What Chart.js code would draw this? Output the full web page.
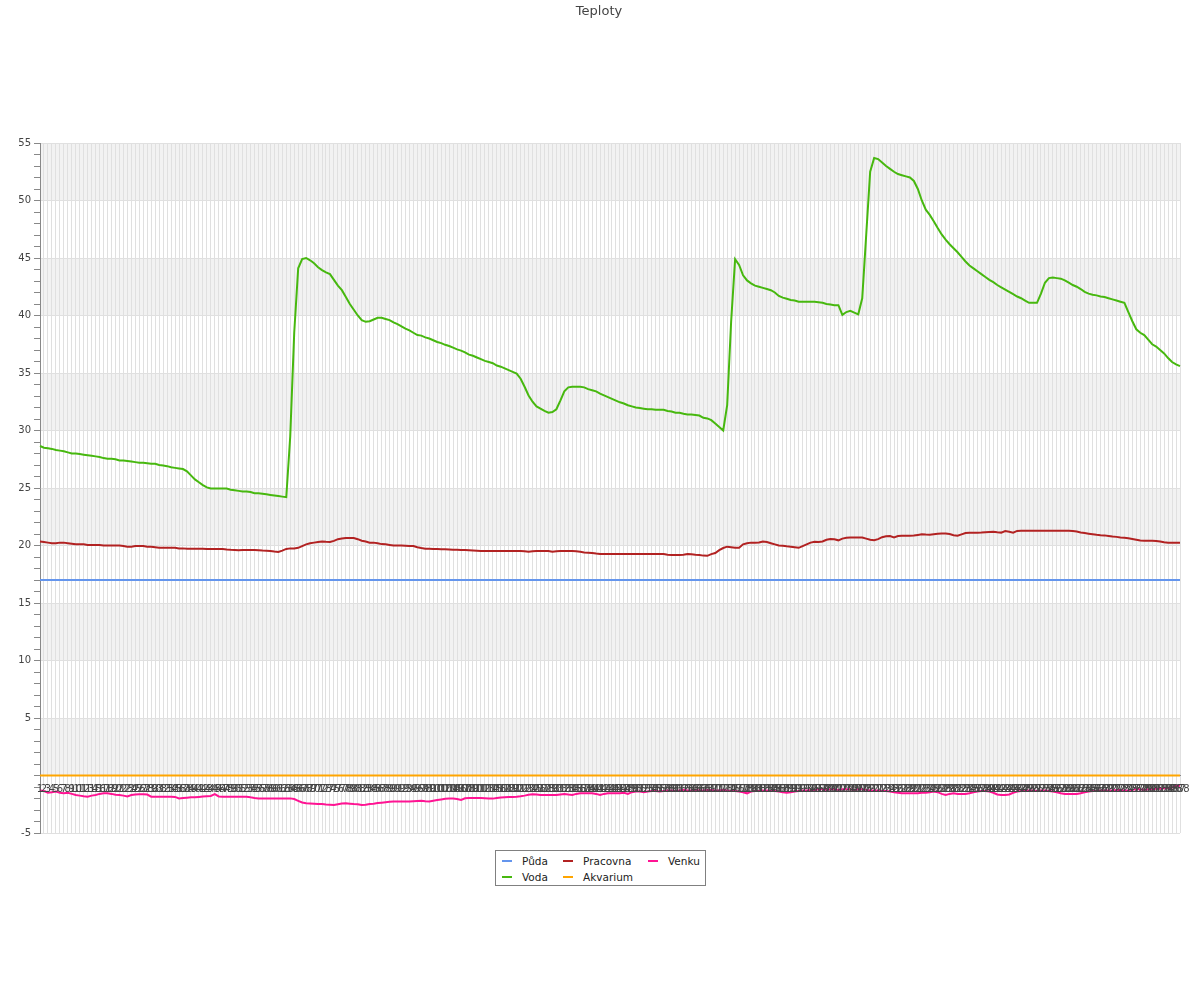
<!DOCTYPE html>
<html>
<head>
<meta charset="utf-8">
<script src="https://cdn.jsdelivr.net/npm/chart.js@4/dist/chart.umd.min.js"></script>
<style>
html,body{margin:0;padding:0;background:#fff;}
#wrap{position:relative;width:1200px;height:1000px;overflow:hidden;}
#title{position:absolute;top:3px;left:0;width:1198px;text-align:center;font:13px "DejaVu Sans",sans-serif;color:#444;line-height:16px;}
#legend{position:absolute;left:495px;top:850px;width:209px;height:34px;border:1px solid #808080;background:#fff;font:10.5px "DejaVu Sans",sans-serif;color:#222;}
.li{position:absolute;height:14px;line-height:14px;white-space:nowrap;}
.mk{position:absolute;left:0;top:6px;width:10px;height:2px;}
.tx{position:absolute;left:20px;top:0;}
canvas{position:absolute;left:0;top:0;}
</style>
</head>
<body>
<div id="wrap">
<canvas id="c" width="1200" height="1000"></canvas>
<div id="title">Teploty</div>
<div id="legend"></div>
</div>
<script>
const seriesNames = ["Půda", "Voda", "Pracovna", "Akvarium", "Venku"];
const seriesColors = ["#6495ed", "#47b80f", "#b22222", "#ffa500", "#ff1493"];

const labels = [
1,2,3,4,5,6,7,8,9,10,11,12,13,14,15,16,17,18,19,20,21,22,23,24,25,26,27,28,29,30,
31,32,33,34,35,36,37,38,39,40,41,42,43,44,45,46,47,48,49,50,51,52,53,54,55,56,57,58,59,60,
61,62,63,64,65,66,67,68,69,70,71,72,73,74,75,76,77,78,79,80,81,82,83,84,85,86,87,88,89,90,
91,92,93,94,95,96,97,98,99,100,101,102,103,104,105,106,107,108,109,110,111,112,113,114,115,116,117,118,119,120,
121,122,123,124,125,126,127,128,129,130,131,132,133,134,135,136,137,138,139,140,141,142,143,144,145,146,147,148,149,150,
151,152,153,154,155,156,157,158,159,160,161,162,163,164,165,166,167,168,169,170,171,172,173,174,175,176,177,178,179,180,
181,182,183,184,185,186,187,188,189,190,191,192,193,194,195,196,197,198,199,200,201,202,203,204,205,206,207,208,209,210,
211,212,213,214,215,216,217,218,219,220,221,222,223,224,225,226,227,228,229,230,231,232,233,234,235,236,237,238,239,240,
241,242,243,244,245,246,247,248,249,250,251,252,253,254,255,256,257,258,259,260,261,262,263,264,265,266,267,268,269,270,
271,272,273,274,275,276,277,278,279,280,281,282,283,284,285,286,287,288];

const puda = [
17,17,17,17,17,17,17,17,17,17,17,17,17,17,17,17,17,17,17,17,17,17,17,17,17,17,17,17,17,17,
17,17,17,17,17,17,17,17,17,17,17,17,17,17,17,17,17,17,17,17,17,17,17,17,17,17,17,17,17,17,
17,17,17,17,17,17,17,17,17,17,17,17,17,17,17,17,17,17,17,17,17,17,17,17,17,17,17,17,17,17,
17,17,17,17,17,17,17,17,17,17,17,17,17,17,17,17,17,17,17,17,17,17,17,17,17,17,17,17,17,17,
17,17,17,17,17,17,17,17,17,17,17,17,17,17,17,17,17,17,17,17,17,17,17,17,17,17,17,17,17,17,
17,17,17,17,17,17,17,17,17,17,17,17,17,17,17,17,17,17,17,17,17,17,17,17,17,17,17,17,17,17,
17,17,17,17,17,17,17,17,17,17,17,17,17,17,17,17,17,17,17,17,17,17,17,17,17,17,17,17,17,17,
17,17,17,17,17,17,17,17,17,17,17,17,17,17,17,17,17,17,17,17,17,17,17,17,17,17,17,17,17,17,
17,17,17,17,17,17,17,17,17,17,17,17,17,17,17,17,17,17,17,17,17,17,17,17,17,17,17,17,17,17,
17,17,17,17,17,17,17,17,17,17,17,17,17,17,17,17,17,17];

const voda = [
28.65,28.5,28.45,28.4,28.3,28.25,28.2,28.1,28.0,28.0,
27.95,27.9,27.85,27.8,27.75,27.7,27.6,27.55,27.55,27.5,
27.4,27.4,27.35,27.3,27.25,27.2,27.2,27.15,27.1,27.1,
27.0,26.95,26.9,26.8,26.75,26.7,26.65,26.45,26.1,25.75,
25.5,25.25,25.05,24.95,24.95,24.95,24.95,24.95,24.85,24.8,
24.75,24.7,24.7,24.65,24.55,24.55,24.5,24.45,24.4,24.35,
24.3,24.25,24.2,29.5,38.5,44.1,44.9,45.0,44.8,44.55,
44.2,43.95,43.75,43.6,43.1,42.6,42.2,41.6,41.0,40.5,
40.0,39.6,39.45,39.5,39.65,39.8,39.8,39.7,39.6,39.4,
39.25,39.05,38.85,38.7,38.5,38.3,38.25,38.1,38.0,37.85,
37.7,37.6,37.45,37.35,37.2,37.05,36.95,36.8,36.6,36.5,
36.35,36.2,36.05,35.95,35.85,35.65,35.55,35.4,35.25,35.1,
34.95,34.5,33.8,33.05,32.5,32.1,31.9,31.7,31.55,31.6,
31.85,32.6,33.4,33.75,33.8,33.8,33.8,33.75,33.6,33.5,
33.4,33.2,33.05,32.9,32.75,32.6,32.45,32.35,32.2,32.1,
32.0,31.95,31.9,31.85,31.85,31.8,31.8,31.8,31.7,31.65,
31.55,31.55,31.45,31.4,31.4,31.35,31.3,31.1,31.05,30.9,
30.6,30.3,30.0,32.2,39.5,44.9,44.4,43.5,43.05,42.8,
42.6,42.5,42.4,42.3,42.2,42.0,41.7,41.55,41.45,41.35,
41.3,41.2,41.2,41.2,41.2,41.2,41.15,41.1,41.0,40.95,
40.9,40.9,40.05,40.3,40.4,40.25,40.1,41.5,47.0,52.5,
53.7,53.6,53.3,53.0,52.75,52.5,52.3,52.2,52.1,52.0,
51.7,51.0,50.0,49.2,48.75,48.2,47.6,47.05,46.6,46.2,
45.85,45.5,45.1,44.7,44.35,44.1,43.85,43.6,43.35,43.1,
42.9,42.65,42.45,42.25,42.05,41.85,41.65,41.5,41.3,41.1,
41.1,41.1,41.9,42.85,43.25,43.3,43.25,43.2,43.05,42.85,
42.65,42.5,42.3,42.05,41.9,41.8,41.75,41.65,41.6,41.5,
41.4,41.3,41.2,41.1,40.3,39.5,38.8,38.5,38.3,37.9,
37.5,37.3,37.0,36.7,36.3,35.95,35.75,35.6];

const pracovna = [
20.35,20.3,20.25,20.2,20.2,20.25,20.25,20.2,20.15,20.1,
20.1,20.1,20.05,20.05,20.05,20.05,20.0,20.0,20.0,20.0,
20.0,19.95,19.9,19.9,19.95,19.95,19.95,19.9,19.9,19.85,
19.8,19.8,19.8,19.8,19.8,19.75,19.75,19.72,19.72,19.72,
19.72,19.72,19.7,19.7,19.7,19.7,19.7,19.65,19.62,19.6,
19.58,19.6,19.6,19.6,19.6,19.58,19.56,19.55,19.52,19.47,
19.43,19.55,19.7,19.75,19.75,19.8,19.95,20.1,20.2,20.25,
20.3,20.35,20.32,20.3,20.4,20.55,20.6,20.65,20.65,20.65,
20.55,20.42,20.35,20.25,20.25,20.2,20.12,20.1,20.05,20.0,
20.0,20.0,19.98,19.96,19.95,19.85,19.78,19.72,19.72,19.7,
19.7,19.68,19.67,19.65,19.62,19.62,19.6,19.6,19.58,19.56,
19.54,19.52,19.52,19.52,19.52,19.52,19.52,19.52,19.52,19.52,
19.52,19.52,19.5,19.45,19.5,19.52,19.52,19.52,19.52,19.45,
19.5,19.52,19.52,19.52,19.52,19.5,19.45,19.4,19.38,19.35,
19.3,19.27,19.26,19.26,19.26,19.26,19.26,19.26,19.26,19.26,
19.26,19.26,19.26,19.26,19.26,19.26,19.26,19.26,19.2,19.17,
19.17,19.17,19.2,19.26,19.24,19.2,19.17,19.12,19.1,19.25,
19.35,19.6,19.78,19.9,19.85,19.8,19.8,20.1,20.2,20.25,
20.25,20.27,20.35,20.3,20.2,20.1,20.0,19.97,19.93,19.9,
19.85,19.8,19.95,20.1,20.25,20.33,20.3,20.35,20.5,20.56,
20.55,20.45,20.6,20.68,20.7,20.7,20.7,20.7,20.6,20.5,
20.45,20.55,20.72,20.8,20.82,20.7,20.82,20.84,20.84,20.85,
20.86,20.92,20.97,20.95,20.94,20.98,21.02,21.05,21.05,21.0,
20.9,20.85,20.97,21.09,21.1,21.1,21.1,21.12,21.15,21.18,
21.2,21.15,21.12,21.25,21.2,21.12,21.27,21.29,21.29,21.28,
21.29,21.29,21.28,21.29,21.29,21.29,21.28,21.29,21.29,21.28,
21.27,21.22,21.13,21.08,21.03,20.98,20.93,20.9,20.88,20.83,
20.78,20.75,20.7,20.67,20.63,20.57,20.5,20.43,20.42,20.42,
20.42,20.4,20.35,20.28,20.25,20.25,20.25,20.25];

const akvarium = [
0,0,0,0,0,0,0,0,0,0,0,0,0,0,0,0,0,0,0,0,0,0,0,0,0,0,0,0,0,0,
0,0,0,0,0,0,0,0,0,0,0,0,0,0,0,0,0,0,0,0,0,0,0,0,0,0,0,0,0,0,
0,0,0,0,0,0,0,0,0,0,0,0,0,0,0,0,0,0,0,0,0,0,0,0,0,0,0,0,0,0,
0,0,0,0,0,0,0,0,0,0,0,0,0,0,0,0,0,0,0,0,0,0,0,0,0,0,0,0,0,0,
0,0,0,0,0,0,0,0,0,0,0,0,0,0,0,0,0,0,0,0,0,0,0,0,0,0,0,0,0,0,
0,0,0,0,0,0,0,0,0,0,0,0,0,0,0,0,0,0,0,0,0,0,0,0,0,0,0,0,0,0,
0,0,0,0,0,0,0,0,0,0,0,0,0,0,0,0,0,0,0,0,0,0,0,0,0,0,0,0,0,0,
0,0,0,0,0,0,0,0,0,0,0,0,0,0,0,0,0,0,0,0,0,0,0,0,0,0,0,0,0,0,
0,0,0,0,0,0,0,0,0,0,0,0,0,0,0,0,0,0,0,0,0,0,0,0,0,0,0,0,0,0,
0,0,0,0,0,0,0,0,0,0,0,0,0,0,0,0,0,0];

const venku = [
-1.3,-1.35,-1.5,-1.45,-1.4,-1.5,-1.55,-1.5,-1.6,-1.7,
-1.75,-1.8,-1.84,-1.75,-1.69,-1.6,-1.55,-1.55,-1.6,-1.68,
-1.7,-1.75,-1.82,-1.7,-1.65,-1.64,-1.64,-1.66,-1.84,-1.84,
-1.84,-1.84,-1.84,-1.84,-1.86,-1.99,-1.96,-1.93,-1.9,-1.9,
-1.86,-1.82,-1.8,-1.78,-1.62,-1.82,-1.84,-1.84,-1.84,-1.84,
-1.84,-1.84,-1.84,-1.9,-1.95,-1.99,-1.99,-1.99,-1.99,-1.99,
-1.99,-1.99,-1.99,-1.99,-2.05,-2.2,-2.35,-2.42,-2.44,-2.46,
-2.48,-2.48,-2.52,-2.54,-2.56,-2.5,-2.44,-2.42,-2.45,-2.48,
-2.5,-2.56,-2.55,-2.48,-2.45,-2.4,-2.36,-2.32,-2.29,-2.27,
-2.27,-2.27,-2.27,-2.26,-2.24,-2.22,-2.2,-2.24,-2.27,-2.2,
-2.14,-2.08,-2.02,-2.01,-2.01,-2.05,-2.13,-1.98,-1.96,-1.96,
-1.96,-1.96,-1.98,-2.0,-2.01,-1.95,-1.92,-1.9,-1.88,-1.86,
-1.84,-1.8,-1.75,-1.68,-1.64,-1.66,-1.69,-1.69,-1.69,-1.69,
-1.69,-1.65,-1.61,-1.66,-1.69,-1.6,-1.55,-1.55,-1.55,-1.55,
-1.6,-1.69,-1.6,-1.55,-1.55,-1.55,-1.55,-1.5,-1.6,-1.45,
-1.4,-1.4,-1.45,-1.4,-1.35,-1.35,-1.4,-1.35,-1.3,-1.3,
-1.35,-1.3,-1.25,-1.3,-1.3,-1.25,-1.3,-1.3,-1.25,-1.25,
-1.3,-1.3,-1.25,-1.3,-1.35,-1.35,-1.4,-1.45,-1.55,-1.4,
-1.35,-1.35,-1.3,-1.3,-1.35,-1.35,-1.4,-1.45,-1.5,-1.45,
-1.4,-1.35,-1.3,-1.3,-1.25,-1.25,-1.2,-1.2,-1.25,-1.2,
-1.2,-1.25,-1.2,-1.2,-1.2,-1.25,-1.2,-1.2,-1.25,-1.3,
-1.3,-1.3,-1.35,-1.35,-1.4,-1.45,-1.5,-1.55,-1.55,-1.55,
-1.55,-1.55,-1.5,-1.5,-1.45,-1.4,-1.45,-1.6,-1.7,-1.6,
-1.55,-1.6,-1.6,-1.6,-1.55,-1.45,-1.4,-1.35,-1.35,-1.4,
-1.5,-1.65,-1.7,-1.7,-1.65,-1.5,-1.4,-1.35,-1.35,-1.3,
-1.3,-1.35,-1.3,-1.3,-1.35,-1.4,-1.45,-1.55,-1.6,-1.6,
-1.6,-1.6,-1.55,-1.45,-1.4,-1.35,-1.35,-1.3,-1.3,-1.3,
-1.3,-1.25,-1.25,-1.3,-1.3,-1.25,-1.2,-1.2,-1.25,-1.2,
-1.2,-1.15,-1.15,-1.1,-1.1,-1.05,-0.9,-0.9];

const yMin = -5, yMax = 55, yStep = 1, yLabelEvery = 5;
const seriesData = [puda, voda, pracovna, akvarium, venku];

// HTML legend (3 columns, column-major)
const legendSlots = [[6, 3], [6, 19], [67, 3], [67, 19], [152, 3]];
const leg = document.getElementById('legend');
seriesNames.forEach((n, i) => {
  const d = document.createElement('div');
  d.className = 'li';
  d.style.left = legendSlots[i][0] + 'px';
  d.style.top = legendSlots[i][1] + 'px';
  d.innerHTML = '<span class="mk" style="background:' + seriesColors[i] + '"></span><span class="tx">' + n + '</span>';
  leg.appendChild(d);
});

const bandPlugin = {
  id: 'bands',
  beforeDraw(chart) {
    const {ctx, chartArea, scales} = chart;
    const y = scales.y;
    ctx.save();
    ctx.fillStyle = '#f2f2f2';
    for (let v = yMax; v > yMin; v -= 10) {
      const top = y.getPixelForValue(v);
      const bot = y.getPixelForValue(v - 5);
      ctx.fillRect(chartArea.left, top, chartArea.right - chartArea.left, bot - top);
    }
    ctx.restore();
  }
};

Chart.defaults.font.family = "'DejaVu Sans', sans-serif";

new Chart(document.getElementById('c'), {
  type: 'line',
  data: {
    labels: labels,
    datasets: seriesNames.map((n, i) => ({
      label: n,
      data: seriesData[i],
      borderColor: seriesColors[i],
      backgroundColor: seriesColors[i],
      borderWidth: 2,
      pointRadius: 0,
      fill: false,
      tension: 0
    }))
  },
  options: {
    responsive: false,
    animation: false,
    devicePixelRatio: 1,
    layout: {padding: {top: 143, left: 0, right: 20, bottom: 167}},
    plugins: {legend: {display: false}, title: {display: false}, tooltip: {enabled: false}},
    scales: {
      x: {
        type: 'category',
        position: {y: 0},
        offset: false,
        grid: {color: '#e0e0e0', lineWidth: 1, drawTicks: true, tickLength: 8, tickColor: 'rgba(0,0,0,0)'},
        border: {display: true, color: '#888', width: 1},
        ticks: {autoSkip: false, maxRotation: 0, minRotation: 0, padding: 0, color: '#444', font: {size: 10}, z: 1},
        afterFit(s) { s.height = 0; }
      },
      y: {
        min: yMin, max: yMax,
        ticks: {
          stepSize: yStep, autoSkip: false, padding: 3, color: '#444', font: {size: 10},
          callback: (v) => (v % yLabelEvery === 0 && v !== 0) ? String(v) : ''
        },
        grid: {
          color: (c) => (c.tick && c.tick.value % yLabelEvery === 0) ? '#e0e0e0' : 'rgba(0,0,0,0)',
          tickColor: '#888', tickLength: 6, lineWidth: 1
        },
        border: {color: '#888', width: 1},
        afterFit(s) { s.width = 40; }
      }
    }
  },
  plugins: [bandPlugin]
});
</script>
</body>
</html>
